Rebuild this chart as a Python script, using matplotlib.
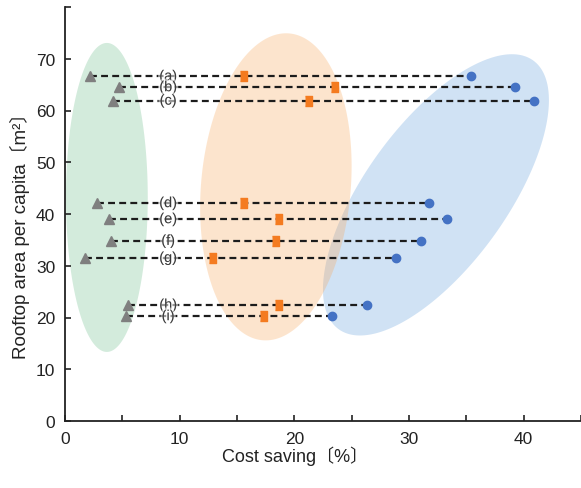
import matplotlib
matplotlib.use("Agg")
import matplotlib.pyplot as plt
import matplotlib.patheffects as pe
import numpy as np

plt.rcParams['font.family'] = ['Liberation Sans', 'Noto Sans CJK SC', 'DejaVu Sans']

# --- data ---
CASES = ['(a)', '(b)', '(c)', '(d)', '(e)', '(f)', '(g)', '(h)', '(i)']
ROOF_AREA = [66.6, 64.5, 61.9, 42.1, 39.0, 34.8, 31.5, 22.4, 20.25]
SAVING_TRI = [2.17, 4.70, 4.17, 2.76, 3.83, 4.00, 1.74, 5.48, 5.30]
SAVING_SQ = [15.50, 23.42, 21.16, 15.50, 18.55, 18.29, 12.81, 18.55, 17.24]
SAVING_CIR = [35.39, 39.24, 40.93, 31.77, 33.30, 31.02, 28.90, 26.37, 23.28]

# cluster shading: centre (data), half axes (pixels), angle on screen
CLUSTERS = [
    {"c": (32.35, 43.7), "a": 166, "b": 71, "ang": 54, "col": (100/255, 160/255, 220/255), "alpha": 0.30, "z": 1},
    {"c": (3.65, 43.2), "a": 154.5, "b": 41, "ang": 90, "col": (110/255, 190/255, 140/255), "alpha": 0.30, "z": 1},
    {"c": (18.39, 45.25), "a": 154, "b": 75, "ang": 85, "col": (248/255, 168/255, 92/255), "alpha": 0.30, "z": 1.1},
]

fig = plt.figure(figsize=(5.81, 4.89), dpi=100)
ax = fig.add_axes([65/581, 67/489, 516/581, 414/489])
ax.set_xlim(0, 44.9)
ax.set_ylim(0, 80)


def shade(ax, cl):
    # ellipse defined on screen, mapped back to data coords
    t = np.linspace(0, 2*np.pi, 400)
    th = np.deg2rad(cl["ang"])
    dx = cl["a"]*np.cos(t)*np.cos(th) - cl["b"]*np.sin(t)*np.sin(th)
    dy = cl["a"]*np.cos(t)*np.sin(th) + cl["b"]*np.sin(t)*np.cos(th)
    c = ax.transData.transform(cl["c"])
    pts = ax.transData.inverted().transform(np.column_stack([c[0]+dx, c[1]+dy]))
    ax.fill(pts[:, 0], pts[:, 1], color=cl["col"], alpha=cl["alpha"], lw=0, zorder=cl["z"])


for cl in CLUSTERS:
    shade(ax, cl)

for lab, y, x0, x1 in zip(CASES, ROOF_AREA, SAVING_TRI, SAVING_CIR):
    ax.plot([x0, x1], [y, y], color='#1c1c1c', lw=1.6, ls=(0, (3.1, 1.9)), zorder=2)
    ax.text(9.0, y, lab, ha='center', va='center', fontsize=10.5, color='#3a3a3a', zorder=5,
            path_effects=[pe.withStroke(linewidth=3, foreground='white', alpha=0.55)])

rect = [(-0.7, -1), (0.7, -1), (0.7, 1), (-0.7, 1)]
ax.plot(SAVING_TRI, ROOF_AREA, ls='none', marker='^', ms=7, color='#7f7f7f', zorder=3)
ax.plot(SAVING_SQ, ROOF_AREA, ls='none', marker=rect, ms=7.2, color='#f47b20', zorder=4)
ax.plot(SAVING_CIR, ROOF_AREA, ls='none', marker='o', ms=6, color='#4472c4', zorder=4)

ax.set_xticks(range(0, 46, 5))
ax.set_xticklabels([str(v) if v % 10 == 0 else '' for v in range(0, 46, 5)])
ax.set_yticks(range(0, 81, 10))
ax.set_yticklabels([str(v) if v < 80 else '' for v in range(0, 81, 10)])
ax.tick_params(direction='in', length=4, width=1.2, labelsize=12.5, colors='#222222', pad=7)

for s in ['top', 'right']:
    ax.spines[s].set_visible(False)
for s in ['left', 'bottom']:
    ax.spines[s].set_linewidth(1.3)
    ax.spines[s].set_color('#222222')

ax.set_xlabel('Cost saving〔%〕', fontsize=13, color='#222222')
ax.set_ylabel('Rooftop area per capita〔m²〕', fontsize=13.5, color='#222222')
ax.xaxis.set_label_coords(0.445, -0.058)
ax.yaxis.set_label_coords(-0.068, 0.46)

fig.savefig('out.png', dpi=100)
